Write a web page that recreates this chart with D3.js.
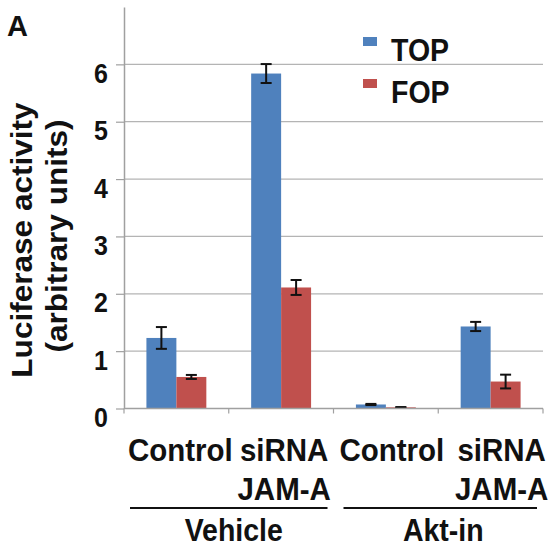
<!DOCTYPE html>
<html>
<head>
<meta charset="utf-8">
<script src="https://cdn.jsdelivr.net/npm/d3@7"></script>
<style>
  body { margin: 0; background: #fff; }
  svg text { font-family: "Liberation Sans", Arial, sans-serif; font-weight: bold; fill: #111; }
</style>
</head>
<body>
<svg id="chart"></svg>
<script>
/* global d3 */

var categories = ["Control", "siRNA JAM-A", "Control ", "siRNA JAM-A "];
var catLines = [["Control"], ["siRNA", "JAM-A"], ["Control"], ["siRNA", "JAM-A"]];
var series = ["TOP", "FOP"];
var topValues = [1.23, 5.84, 0.07, 1.43];
var topErrors = [0.19, 0.165, 0.01, 0.08];
var fopValues = [0.55, 2.11, 0.02, 0.47];
var fopErrors = [0.035, 0.13, 0.005, 0.12];
var groups = ["Vehicle", "Akt-in"];
var yTicks = [0, 1, 2, 3, 4, 5, 6];

var width = 555,
  height = 544,
  stretch = 1.07;

var svg = d3.select("#chart")
  .attr("width", width)
  .attr("height", height);

var x = d3.scaleBand()
  .domain(categories)
  .range([124, 543])
  .padding(0);

var y = d3.scaleLinear()
  .domain([0, 7])
  .range([408.5, 7]);

var barW = x.bandwidth() * 0.286;
var xs = d3.scaleBand()
  .domain(series)
  .range([(x.bandwidth() - 2 * barW) / 2, (x.bandwidth() + 2 * barW) / 2]);

var colors = { TOP: "#4f81bd", FOP: "#c0504d" };

// gridlines
svg.append("g")
  .selectAll("line")
  .data(yTicks.filter(d => d > 0))
  .join("line")
  .attr("x1", 124)
  .attr("x2", 543)
  .attr("y1", d => y(d))
  .attr("y2", d => y(d))
  .attr("stroke", "#b4b4b4")
  .attr("stroke-width", 1.2);

// y axis (line + ticks from d3, labels drawn below)
var yAxis = svg.append("g")
  .attr("transform", "translate(124,0)")
  .call(d3.axisLeft(y).tickValues(yTicks).tickSize(8).tickSizeOuter(0).tickFormat(""));
yAxis.select(".domain").attr("stroke", "#a0a0a0").attr("stroke-width", 1.5);
yAxis.selectAll(".tick line").attr("stroke", "#a0a0a0").attr("stroke-width", 1.2);

// tick labels sit a little below their gridlines, as in the original
svg.append("g")
  .selectAll("text")
  .data(yTicks)
  .join("text")
  .attr("text-anchor", "end")
  .attr("font-size", 25)
  .attr("transform", d => `translate(108,${y(d) + 18.5}) scale(1,${stretch})`)
  .text(d => d);

// bars
var rows = categories.map((c, i) => ({
  cat: c,
  vals: [
    { s: "TOP", v: topValues[i], e: topErrors[i] },
    { s: "FOP", v: fopValues[i], e: fopErrors[i] }
  ]
}));

var cat = svg.append("g")
  .selectAll("g")
  .data(rows)
  .join("g")
  .attr("transform", d => `translate(${x(d.cat)},0)`);

cat.selectAll("rect")
  .data(d => d.vals)
  .join("rect")
  .attr("x", d => xs(d.s))
  .attr("width", xs.bandwidth())
  .attr("y", d => y(d.v))
  .attr("height", d => y(0) - y(d.v))
  .attr("fill", d => colors[d.s]);

var err = cat.selectAll("g.err")
  .data(d => d.vals)
  .join("g")
  .attr("class", "err")
  .attr("stroke", "#111")
  .attr("stroke-width", 2);
err.append("line")
  .attr("x1", d => xs(d.s) + xs.bandwidth() / 2)
  .attr("x2", d => xs(d.s) + xs.bandwidth() / 2)
  .attr("y1", d => y(d.v + d.e))
  .attr("y2", d => y(d.v - d.e));
err.selectAll("line.cap")
  .data(d => [d.v + d.e, d.v - d.e].map(v => ({ s: d.s, v: v })))
  .join("line")
  .attr("class", "cap")
  .attr("x1", d => xs(d.s) + xs.bandwidth() / 2 - 5.5)
  .attr("x2", d => xs(d.s) + xs.bandwidth() / 2 + 5.5)
  .attr("y1", d => y(d.v))
  .attr("y2", d => y(d.v));

// x axis line and boundary ticks
var bounds = categories.map(c => x(c)).concat([x.range()[1]]);
svg.append("line")
  .attr("x1", x.range()[0])
  .attr("x2", x.range()[1])
  .attr("y1", y(0))
  .attr("y2", y(0))
  .attr("stroke", "#a0a0a0")
  .attr("stroke-width", 1.5);
svg.append("g")
  .selectAll("line")
  .data(bounds)
  .join("line")
  .attr("x1", d => d)
  .attr("x2", d => d)
  .attr("y1", y(0))
  .attr("y2", y(0) + 5)
  .attr("stroke", "#a0a0a0")
  .attr("stroke-width", 1.2);

// category labels
var nudge = [4, 3, 6, 11];
var labels = svg.append("g")
  .selectAll("text")
  .data(categories)
  .join("text")
  .attr("text-anchor", "middle")
  .attr("font-size", 29.5)
  .attr("transform", (d, i) => `translate(${x(d) + x.bandwidth() / 2 + nudge[i]},461) scale(1,${stretch})`);
labels.selectAll("tspan")
  .data((d, i) => catLines[i])
  .join("tspan")
  .attr("x", 0)
  .attr("dy", (d, i) => i === 0 ? 0 : 36.5)
  .text(d => d);

// group brackets
groups.forEach(function(g, i) {
  var x0 = x(categories[i * 2]),
    x1 = x(categories[i * 2 + 1]) + x.bandwidth();
  svg.append("line")
    .attr("x1", x0 + 6 + i * 4)
    .attr("x2", x1 - 6)
    .attr("y1", 508)
    .attr("y2", 508)
    .attr("stroke", "#111")
    .attr("stroke-width", 2);
  svg.append("text")
    .attr("text-anchor", "middle")
    .attr("font-size", 28.5)
    .attr("transform", `translate(${(x0 + x1) / 2 + 5},541) scale(1,${stretch})`)
    .text(g);
});

// y axis title
var titleLines = ["Luciferase activity", "(arbitrary units)"];
svg.append("g")
  .selectAll("text")
  .data(titleLines)
  .join("text")
  .attr("text-anchor", "middle")
  .attr("font-size", 29.5)
  .attr("transform", (d, i) => `translate(${32 + i * 35},${240 - i * 4}) rotate(-90) scale(${stretch},1)`)
  .text(d => d);

// panel letter
svg.append("text")
  .attr("font-size", 29)
  .attr("transform", "translate(7,36)")
  .text("A");

// legend
var legend = svg.append("g")
  .selectAll("g")
  .data(series)
  .join("g")
  .attr("transform", (d, i) => `translate(363,${37 + i * 42})`);
legend.append("rect")
  .attr("width", 14)
  .attr("height", 9)
  .attr("fill", d => colors[d]);
legend.append("text")
  .attr("font-size", 28.5)
  .attr("transform", `translate(28,24) scale(1,${stretch})`)
  .text(d => d);
</script>
</body>
</html>
